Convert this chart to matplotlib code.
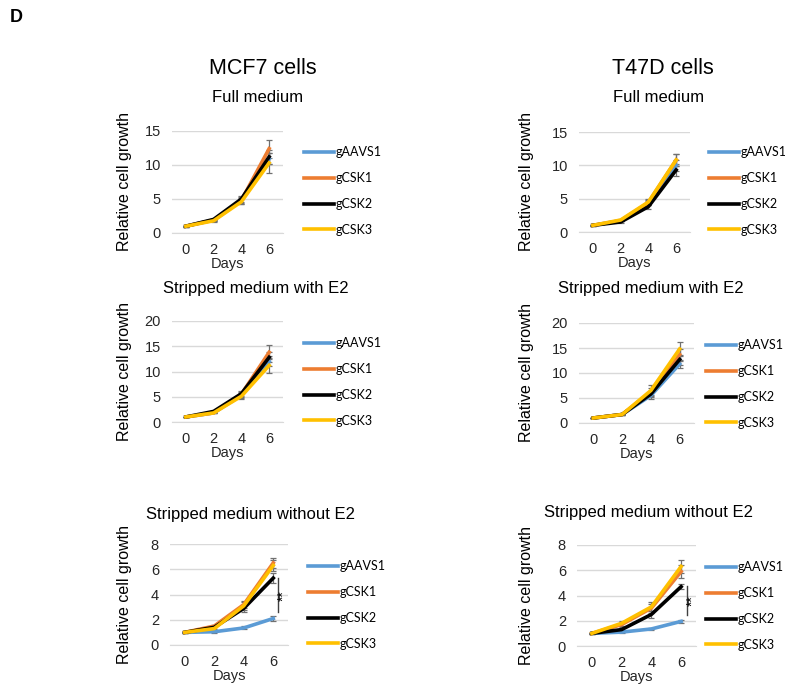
import numpy as np
import matplotlib
matplotlib.use("Agg")
import matplotlib.pyplot as plt
from matplotlib.lines import Line2D

plt.rcParams['font.family'] = ['Liberation Sans', 'DejaVu Sans']

W, H = 785, 689

days = ['0', '2', '4', '6']
series = ['gAAVS1', 'gCSK1', 'gCSK2', 'gCSK3']
colors = ['#5B9BD5', '#ED7D31', '#000000', '#FFC000']

# MCF7 full medium
mcf7_full = [[1, 1.9, 4.8, 10.9], [1, 1.9, 4.8, 12.4], [1, 2.0, 5.0, 11.2], [1, 1.8, 4.6, 10.3]]
mcf7_full_err = [[0.05, 0.1, 0.4, 0.8], [0.05, 0.15, 0.5, 1.3], [0.05, 0.1, 0.5, 1.0], [0.05, 0.15, 0.4, 1.5]]
# T47D full medium
t47d_full = [[1, 1.7, 4.3, 10.0], [1, 1.7, 4.4, 10.8], [1, 1.5, 3.8, 9.3], [1, 1.8, 4.5, 10.8]]
t47d_full_err = [[0.05, 0.1, 0.3, 0.8], [0.05, 0.1, 0.4, 0.9], [0.05, 0.1, 0.3, 0.9], [0.05, 0.1, 0.4, 0.9]]
# MCF7 stripped medium with E2
mcf7_e2 = [[1, 1.8, 5.3, 12.0], [1, 1.8, 5.5, 13.8], [1, 2.1, 5.6, 12.8], [1, 1.8, 5.1, 11.2]]
mcf7_e2_err = [[0.05, 0.1, 0.5, 1.0], [0.05, 0.1, 0.5, 1.4], [0.05, 0.1, 0.5, 1.0], [0.05, 0.1, 0.5, 1.5]]
# T47D stripped medium with E2
t47d_e2 = [[1, 1.7, 5.5, 11.8], [1, 1.7, 6.2, 13.7], [1, 1.7, 5.8, 12.7], [1, 1.7, 6.5, 14.8]]
t47d_e2_err = [[0.05, 0.1, 0.7, 0.8], [0.05, 0.1, 0.8, 1.2], [0.05, 0.1, 0.6, 1.0], [0.05, 0.1, 1.0, 1.4]]
# MCF7 stripped medium without E2
mcf7_noe2 = [[1, 1.05, 1.35, 2.1], [1, 1.5, 3.2, 6.5], [1, 1.4, 2.9, 5.3], [1, 1.3, 3.1, 6.3]]
mcf7_noe2_err = [[0.05, 0.08, 0.12, 0.2], [0.05, 0.1, 0.3, 0.4], [0.05, 0.1, 0.25, 0.4], [0.05, 0.1, 0.3, 0.4]]
# T47D stripped medium without E2
t47d_noe2 = [[1, 1.1, 1.35, 1.95], [1, 1.7, 3.0, 5.9], [1, 1.3, 2.5, 4.7], [1, 1.8, 3.1, 6.3]]
t47d_noe2_err = [[0.05, 0.05, 0.08, 0.12], [0.05, 0.2, 0.35, 0.5], [0.05, 0.1, 0.3, 0.2], [0.05, 0.2, 0.35, 0.5]]

fig = plt.figure(figsize=(W / 100, H / 100), dpi=100)


def px_axes(x0, x1, ytop, ybot):
    return fig.add_axes([x0 / W, 1 - ybot / H, (x1 - x0) / W, (ybot - ytop) / H])


def panel(box, vals, errs, ymax, step, title, tx, ty, legx, legy, ylab_x):
    ax = px_axes(*box)
    x = np.arange(len(days))
    for v, e, c in zip(vals, errs, colors):
        ax.errorbar(x, v, yerr=e, color=c, lw=2.6, ecolor='#707070',
                    elinewidth=0.9, capsize=2.5, capthick=0.9, zorder=3)
    ax.set_xlim(-0.5, 3.5)
    ax.set_ylim(0, ymax)
    ax.set_yticks(np.arange(0, ymax + 0.1, step))
    ax.set_xticks(x)
    ax.set_xticklabels(days)
    ax.yaxis.grid(True, color='#D9D9D9', lw=1)
    ax.set_axisbelow(True)
    for s in ['top', 'right', 'left']:
        ax.spines[s].set_visible(False)
    ax.spines['bottom'].set_color('#D9D9D9')
    ax.tick_params(length=0, labelsize=10.5, labelcolor='#262626')
    ax.tick_params(axis='x', pad=7)
    ax.tick_params(axis='y', pad=8)
    ax.set_xlabel('Days', fontsize=10.5, labelpad=0, color='#262626')
    fig.text(ylab_x / W, 1 - (box[2] + box[3]) / 2 / H, 'Relative cell growth',
             rotation=90, ha='center', va='center', fontsize=11.5)
    fig.text(tx / W, 1 - ty / H, title, ha='center', va='center', fontsize=12)
    handles = [Line2D([], [], color=c, lw=2.6) for c in colors]
    fig.legend(handles, series, loc='center left',
               bbox_to_anchor=(legx / W, 1 - legy / H), frameon=False,
               handlelength=2.4, handletextpad=0.1,
               labelspacing=1.1, borderpad=0, borderaxespad=0,
               prop={'family': 'Lato', 'size': 9})
    return ax


panel((172, 283, 131, 233), mcf7_full, mcf7_full_err, 15, 5, 'Full medium', 258, 97, 304, 191, 125)
panel((579, 690, 132, 232), t47d_full, t47d_full_err, 15, 5, 'Full medium', 659, 97, 709, 191, 526)
panel((172, 283, 321, 422), mcf7_e2, mcf7_e2_err, 20, 5, 'Stripped medium with E2', 256, 289, 304, 382, 125)
panel((579, 694, 323, 423), t47d_e2, t47d_e2_err, 20, 5, 'Stripped medium with E2', 651, 288, 706, 384, 526)
ax5 = panel((170, 288, 544, 645), mcf7_noe2, mcf7_noe2_err, 8, 2, 'Stripped medium without E2', 250, 515, 308, 605, 125)
ax6 = panel((577, 696, 545, 646), t47d_noe2, t47d_noe2_err, 8, 2, 'Stripped medium without E2', 649, 512, 706, 606, 526)

# significance marks
ax5.plot([3.16, 3.16], [2.6, 5.3], color='#404040', lw=1, clip_on=False)
ax5.text(3.36, 3.95, '**', rotation=90, ha='center', va='center', fontsize=10)
ax6.plot([3.2, 3.2], [2.45, 4.75], color='#404040', lw=1, clip_on=False)
ax6.text(3.4, 3.6, '**', rotation=90, ha='center', va='center', fontsize=10)

fig.text(263 / W, 1 - 68 / H, 'MCF7 cells', ha='center', va='center', fontsize=15.5)
fig.text(663 / W, 1 - 68 / H, 'T47D cells', ha='center', va='center', fontsize=15.5)
fig.text(10 / W, 1 - 18 / H, 'D', ha='left', va='center', fontsize=13, fontweight='bold')

fig.savefig('out.png', dpi=100)
